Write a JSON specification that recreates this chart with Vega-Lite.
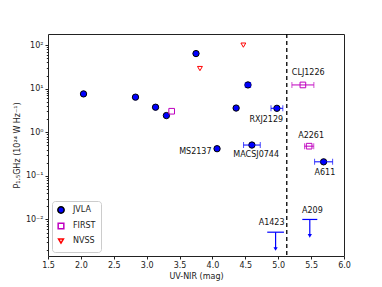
{
  "$schema": "https://vega.github.io/schema/vega-lite/v6.json",
  "width": 296,
  "height": 222,
  "autosize": {"type": "none"},
  "padding": {"left": 48, "top": 34, "right": 38, "bottom": 31},
  "config": {
    "font": "DejaVu Sans",
    "view": {"stroke": "#222", "strokeWidth": 1},
    "axis": {"grid": false, "domain": false, "tickColor": "#222", "labelColor": "#222", "titleColor": "#222", "labelFontSize": 8, "titleFontSize": 8, "titleFontWeight": "normal", "labelFont": "DejaVu Sans", "titleFont": "DejaVu Sans", "labelOverlap": false, "labelFlush": false}
  },
  "datasets": {
    "pts": [
      {"survey": "JVLA", "x": 2.04, "y": 7.6},
      {"survey": "JVLA", "x": 2.83, "y": 6.4},
      {"survey": "JVLA", "x": 3.135, "y": 3.76},
      {"survey": "JVLA", "x": 3.30, "y": 2.42},
      {"survey": "JVLA", "x": 3.75, "y": 64},
      {"survey": "JVLA", "x": 4.54, "y": 12.2},
      {"survey": "JVLA", "x": 4.36, "y": 3.6},
      {"survey": "JVLA", "x": 4.98, "y": 3.55},
      {"survey": "JVLA", "x": 4.07, "y": 0.42},
      {"survey": "JVLA", "x": 4.60, "y": 0.51},
      {"survey": "JVLA", "x": 5.69, "y": 0.21},
      {"survey": "FIRST", "x": 3.38, "y": 3.04},
      {"survey": "FIRST", "x": 5.375, "y": 12.2},
      {"survey": "FIRST", "x": 5.47, "y": 0.48},
      {"survey": "NVSS", "x": 4.47, "y": 100},
      {"survey": "NVSS", "x": 3.81, "y": 29}
    ],
    "errs": [
      {"survey": "JVLA", "y": 3.55, "xlo": 4.89, "xhi": 5.07},
      {"survey": "JVLA", "y": 0.51, "xlo": 4.473, "xhi": 4.727},
      {"survey": "JVLA", "y": 0.21, "xlo": 5.553, "xhi": 5.827},
      {"survey": "JVLA", "y": 12.2, "xlo": 4.50, "xhi": 4.58},
      {"survey": "FIRST", "y": 12.2, "xlo": 5.208, "xhi": 5.542},
      {"survey": "FIRST", "y": 0.48, "xlo": 5.40, "xhi": 5.54}
    ],
    "lims": [
      {"name": "A1423", "x": 4.96, "y": 0.0051, "xlo": 4.833, "xhi": 5.087, "yend": 0.0021},
      {"name": "A209", "x": 5.48, "y": 0.01, "xlo": 5.366, "xhi": 5.594, "yend": 0.0042}
    ],
    "labels": [
      {"label": "CLJ1226", "lx": 5.456, "ly": 22.7},
      {"label": "RXJ2129", "lx": 4.818, "ly": 1.89},
      {"label": "A2261", "lx": 5.50, "ly": 0.81},
      {"label": "MS2137", "lx": 3.74, "ly": 0.352},
      {"label": "MACSJ0744", "lx": 4.665, "ly": 0.296},
      {"label": "A611", "lx": 5.71, "ly": 0.116},
      {"label": "A1423", "lx": 4.90, "ly": 0.0082},
      {"label": "A209", "lx": 5.52, "ly": 0.0153}
    ]
  },
  "layer": [
    {
      "data": {"name": "pts"},
      "mark": {"type": "point", "strokeWidth": 1, "opacity": 1},
      "encoding": {
        "x": {"field": "x", "type": "quantitative", "scale": {"domain": [1.5, 6], "nice": false, "zero": false},
          "axis": {"values": [1.5, 2, 2.5, 3, 3.5, 4, 4.5, 5, 5.5, 6], "tickCount": 20, "format": ".1f", "title": "UV-NIR (mag)", "tickSize": 3, "labelPadding": 2, "titlePadding": 3, "labelOverlap": false, "labelFlush": false, "labelBound": false}},
        "y": {"field": "y", "type": "quantitative",
          "scale": {"type": "log", "domain": [0.00145, 180], "nice": false},
          "axis": {
            "title": "P₁.₅GHz (10²⁴ W Hz⁻¹)",
            "titlePadding": 4,
            "labelPadding": 2,
            "labelOverlap": false,
            "tickCount": 100,
            "values": [0.002, 0.003, 0.004, 0.005, 0.006, 0.007, 0.008, 0.009, 0.01, 0.02, 0.03, 0.04, 0.05, 0.06, 0.07, 0.08, 0.09, 0.1, 0.2, 0.3, 0.4, 0.5, 0.6, 0.7, 0.8, 0.9, 1, 2, 3, 4, 5, 6, 7, 8, 9, 10, 20, 30, 40, 50, 60, 70, 80, 90, 100],
            "labelExpr": "abs(log(datum.value)/LN10 - round(log(datum.value)/LN10)) < 1e-6 ? (round(log(datum.value)/LN10) == 2 ? '10²' : round(log(datum.value)/LN10) == 1 ? '10¹' : round(log(datum.value)/LN10) == 0 ? '10⁰' : round(log(datum.value)/LN10) == -1 ? '10⁻¹' : '10⁻²') : ''",
            "tickSize": {"condition": {"test": "abs(log(datum.value)/LN10 - round(log(datum.value)/LN10)) < 1e-6", "value": 3}, "value": 1.7}
          }},
        "shape": {"field": "survey", "type": "nominal", "scale": {"domain": ["JVLA", "FIRST", "NVSS"], "range": ["circle", "square", "triangle-down"]},
          "legend": {"title": null, "orient": "bottom-left", "offset": 4, "padding": 5, "rowPadding": 3, "strokeColor": "#ccc", "fillColor": "white", "cornerRadius": 3, "labelFontSize": 8, "labelFont": "DejaVu Sans", "labelColor": "#222", "labelOffset": 8}},
        "fill": {"field": "survey", "type": "nominal", "scale": {"domain": ["JVLA", "FIRST", "NVSS"], "range": ["#0000ff", "transparent", "transparent"]}},
        "stroke": {"field": "survey", "type": "nominal", "scale": {"domain": ["JVLA", "FIRST", "NVSS"], "range": ["#000000", "#bf00bf", "#ff0000"]}},
        "size": {"field": "survey", "type": "nominal", "scale": {"domain": ["JVLA", "FIRST", "NVSS"], "range": [40, 24, 22]}}
      }
    },
    {
      "data": {"values": [{"v": 5.13}]},
      "mark": {"type": "rule", "strokeDash": [4, 3], "color": "black", "strokeWidth": 1.3},
      "encoding": {
        "x": {"field": "v", "type": "quantitative"}
      }
    },
    {
      "data": {"name": "errs"},
      "mark": {"type": "rule", "strokeWidth": 1},
      "encoding": {
        "x": {"field": "xlo", "type": "quantitative"},
        "x2": {"field": "xhi"},
        "y": {"field": "y", "type": "quantitative"},
        "color": {"field": "survey", "type": "nominal", "scale": {"domain": ["JVLA", "FIRST"], "range": ["#0000ff", "#bf00bf"]}, "legend": null}
      }
    },
    {
      "data": {"name": "errs"},
      "mark": {"type": "tick", "orient": "vertical", "size": 6, "thickness": 1},
      "encoding": {
        "x": {"field": "xlo", "type": "quantitative"},
        "y": {"field": "y", "type": "quantitative"},
        "color": {"field": "survey", "type": "nominal", "scale": {"domain": ["JVLA", "FIRST"], "range": ["#0000ff", "#bf00bf"]}, "legend": null}
      }
    },
    {
      "data": {"name": "errs"},
      "mark": {"type": "tick", "orient": "vertical", "size": 6, "thickness": 1},
      "encoding": {
        "x": {"field": "xhi", "type": "quantitative"},
        "y": {"field": "y", "type": "quantitative"},
        "color": {"field": "survey", "type": "nominal", "scale": {"domain": ["JVLA", "FIRST"], "range": ["#0000ff", "#bf00bf"]}, "legend": null}
      }
    },
    {
      "data": {"name": "lims"},
      "mark": {"type": "rule", "color": "#0000ff", "strokeWidth": 1.2},
      "encoding": {
        "x": {"field": "xlo", "type": "quantitative"},
        "x2": {"field": "xhi"},
        "y": {"field": "y", "type": "quantitative"}
      }
    },
    {
      "data": {"name": "lims"},
      "mark": {"type": "rule", "color": "#0000ff", "strokeWidth": 1.2},
      "encoding": {
        "x": {"field": "x", "type": "quantitative"},
        "y": {"field": "y", "type": "quantitative"},
        "y2": {"field": "yend"}
      }
    },
    {
      "data": {"name": "lims"},
      "mark": {"type": "point", "shape": "triangle-down", "filled": true, "color": "#0000ff", "size": 18, "opacity": 1},
      "encoding": {
        "x": {"field": "x", "type": "quantitative"},
        "y": {"field": "yend", "type": "quantitative"}
      }
    },
    {
      "data": {"name": "labels"},
      "mark": {"type": "text", "fontSize": 8, "font": "DejaVu Sans", "color": "#111", "baseline": "middle", "align": "center"},
      "encoding": {
        "x": {"field": "lx", "type": "quantitative"},
        "y": {"field": "ly", "type": "quantitative"},
        "text": {"field": "label"}
      }
    }
  ]
}
